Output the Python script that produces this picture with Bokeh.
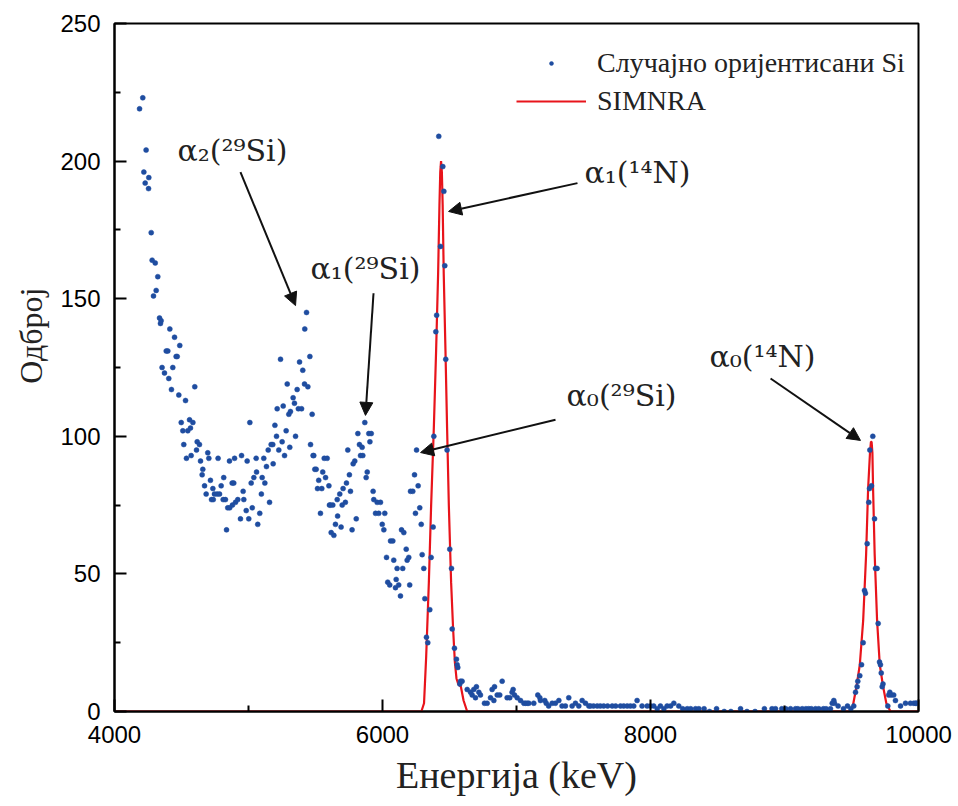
from bokeh.plotting import figure
from bokeh.models import (FixedTicker, Arrow, NormalHead, Legend, LegendItem,
                          Title, ColumnDataSource, Range1d)
from bokeh.core.properties import value
from bokeh.embed import file_html
from bokeh.resources import INLINE

# ---- measured spectrum: "Случајно оријентисани Si" (energy keV, counts)
energy = [
    4187, 4211, 4219, 4229, 4236, 4254, 4256, 4274, 4281, 4291, 4304, 4311, 4323,
    4336, 4343, 4348, 4355, 4373, 4386, 4398, 4405, 4413, 4425, 4435, 4448, 4460,
    4468, 4480, 4487, 4498, 4510, 4517, 4530, 4537, 4547, 4560, 4567, 4572, 4585,
    4599, 4612, 4617, 4634, 4642, 4654, 4659, 4672, 4684, 4696, 4704, 4716, 4724,
    4734, 4737, 4746, 4766, 4773, 4784, 4796, 4811, 4815, 4828, 4836, 4845, 4858,
    4860, 4878, 4880, 4890, 4896, 4903, 4920, 4940, 4948, 4960, 4965, 4983, 4990,
    5002, 5010, 5020, 5028, 5040, 5057, 5060, 5069, 5084, 5096, 5102, 5114, 5122,
    5134, 5147, 5157, 5169, 5181, 5184, 5197, 5209, 5214, 5226, 5239, 5251, 5259,
    5269, 5281, 5289, 5301, 5308, 5313, 5333, 5343, 5351, 5363, 5372, 5381, 5396,
    5405, 5418, 5420, 5433, 5443, 5458, 5463, 5475, 5482, 5487, 5495, 5505, 5515,
    5524, 5537, 5547, 5554, 5565, 5575, 5587, 5600, 5604, 5612, 5617, 5629, 5637,
    5649, 5662, 5665, 5681, 5691, 5699, 5706, 5723, 5731, 5741, 5753, 5761, 5773,
    5781, 5793, 5804, 5816, 5828, 5836, 5848, 5853, 5868, 5878, 5886, 5898, 5906,
    5916, 5930, 5935, 5948, 5960, 5972, 5985, 5998, 6010, 6017, 6030, 6039, 6054,
    6060, 6077, 6084, 6097, 6102, 6109, 6121, 6134, 6142, 6151, 6159, 6177, 6184,
    6196, 6203, 6209, 6226, 6239, 6246, 6254, 6266, 6278, 6289, 6296, 6308, 6316,
    6328, 6338, 6353, 6363, 6378, 6383, 6398, 6404, 6420, 6433, 6450, 6458, 6465,
    6472, 6482, 6502, 6515, 6520, 6537, 6552, 6557, 6562, 6577, 6582, 6594, 6632,
    6657, 6669, 6681, 6694, 6701, 6719, 6731, 6761, 6781, 6806, 6818, 6831, 6836,
    6856, 6875, 6893, 6930, 6950, 6967, 6975, 6985, 7005, 7030, 7055, 7067, 7080,
    7092, 7129, 7159, 7174, 7179, 7211, 7222, 7240, 7266, 7290, 7316, 7340, 7365,
    7390, 7415, 7440, 7465, 7490, 7515, 7540, 7552, 7575, 7602, 7625, 7651, 7680,
    7714, 7740, 7776, 7800, 7826, 7850, 7875, 7900, 7937, 7975, 8000, 8024, 8050,
    8074, 8100, 8124, 8150, 8174, 8211, 8240, 8274, 8300, 8336, 8361, 8400, 8440,
    8493, 8550, 8600, 8672, 8720, 8780, 8850, 8907, 8933, 8980, 9010, 9045, 9082,
    9100, 9132, 9160, 9181, 9200, 9231, 9256, 9290, 9310, 9343, 9356, 9368, 9373,
    9400, 9440, 9470, 9495, 9517, 9530, 9542, 9547, 9562, 9575, 9587, 9597, 9604,
    9617, 9629, 9634, 9637, 9649, 9659, 9672, 9679, 9691, 9699, 9709, 9716, 9722,
    9729, 9735, 9771, 9778, 9786, 9796, 9815, 9828, 9866, 9903, 9940, 9965, 9978,
    9985,
]
counts = [
    219, 223, 196, 192, 204, 190, 194, 174, 164, 151, 163, 153, 158,
    143, 141, 142, 125, 123, 131, 131, 121, 139, 117, 125, 136, 129,
    129, 115, 133, 105, 102, 97, 113, 92, 102, 106, 103, 93, 105,
    118, 95, 98, 97, 91, 86, 88, 82, 79, 94, 92, 84, 77,
    81, 77, 79, 79, 92, 79, 82, 77, 85, 77, 66, 74, 91,
    74, 83, 75, 83, 92, 76, 77, 70, 93, 80, 77, 73, 91,
    70, 105, 83, 74, 85, 92, 87, 68, 72, 79, 85, 92, 83,
    89, 95, 76, 97, 97, 90, 104, 100, 110, 95, 128, 98, 111,
    93, 102, 119, 108, 96, 109, 114, 112, 100, 117, 110, 127, 110,
    124, 119, 139, 145, 118, 129, 97, 108, 93, 93, 88, 88, 81,
    84, 72, 81, 87, 92, 85, 92, 82, 75, 75, 65, 75, 64,
    68, 77, 71, 79, 67, 75, 81, 76, 83, 95, 86, 80, 66,
    90, 91, 70, 101, 97, 93, 96, 93, 105, 85, 87, 101, 98,
    101, 80, 77, 72, 76, 72, 76, 68, 66, 72, 56, 47, 46,
    62, 62, 55, 45, 48, 52, 46, 42, 66, 52, 65, 59, 55,
    56, 46, 80, 80, 86, 72, 95, 82, 74, 68, 57, 52, 41,
    27, 25, 37, 56, 67, 100, 138, 144, 209, 169, 198, 189, 162,
    128, 95, 59, 52, 30, 23, 19, 17, 16, 10, 11, 11, 8,
    7, 6, 8, 5, 9, 7, 6, 3, 3, 5, 8, 4, 9,
    6, 6, 11, 5, 5, 7, 8, 6, 5, 4, 3, 3, 3,
    3, 3, 6, 5, 4, 4, 3, 2, 3, 3, 4, 2, 2,
    5, 2, 3, 2, 4, 3, 2, 2, 2, 2, 2, 2, 2,
    2, 2, 2, 2, 2, 2, 2, 4, 2, 2, 2, 2, 1,
    2, 1, 2, 2, 3, 2, 1, 1, 1, 1, 1, 1, 0,
    1, 0, 0, 1, 0, 0, 1, 1, 1, 1, 1, 1, 1,
    1, 1, 1, 1, 1, 1, 1, 1, 1, 1, 3, 4, 3,
    2, 1, 2, 1, 2, 7, 9, 11, 13, 17, 25, 44, 43,
    61, 76, 81, 95, 82, 100, 70, 52, 52, 32, 18, 17, 14,
    9, 10, 2, 6, 7, 6, 6, 4, 2, 3, 3, 3, 3,
    3,
]

# ---- SIMNRA simulation (energy keV, counts)
simnra_energy = [4000, 6290, 6310, 6326, 6346, 6363, 6383, 6400, 6415, 6425, 6431,
                 6437, 6443, 6449, 6457, 6470, 6482, 6495, 6512, 6527, 6540, 6552,
                 6565, 6585, 6605, 6632, 9495, 9510, 9537, 9562, 9587, 9609, 9624,
                 9638, 9645, 9650, 9656, 9661, 9673, 9691, 9711, 9736, 9760, 9791,
                 10000]
simnra_counts = [0, 0, 3, 20, 47, 75, 103, 131, 159, 184, 196,
                 200, 196, 184, 159, 131, 103, 75, 47, 30, 18, 12,
                 10, 9, 4, 0, 0, 2, 9, 17, 33, 57, 81,
                 94, 98, 98, 94, 81, 57, 33, 17, 9, 3, 0,
                 0]

x_ticks = [4000, 6000, 8000, 10000]
x_minor = [5000, 7000, 9000]
y_ticks = [0, 50, 100, 150, 200, 250]
y_minor = [25, 75, 125, 175, 225]

series_names = ["Случајно оријентисани Si", "SIMNRA"]

# ---- peak annotations (label text, label position, arrow start/end)
peak_labels = ["α₂(²⁹Si)", "α₁(²⁹Si)", "α₁(¹⁴N)", "α₀(²⁹Si)", "α₀(¹⁴N)"]
label_x = [4880, 5873, 7903, 7784, 8836]
label_y = [204, 161, 196, 115, 129]
arrow_x0 = [4940, 5933, 7455, 7291, 8896]
arrow_y0 = [196, 152, 192, 106, 121]
arrow_x1 = [5351, 5873, 6493, 6284, 9567]
arrow_y1 = [147.5, 107.6, 181.7, 94.1, 98.5]

BLUE = "#1F4DA0"
RED = "#E8141B"

p = figure(width=958, height=806, x_range=Range1d(4000, 10000), y_range=Range1d(0, 250),
           output_backend="svg", toolbar_location=None,
           min_border_left=114, min_border_right=40, min_border_top=23, min_border_bottom=95)
p.background_fill_color = "white"
p.border_fill_color = "white"
p.outline_line_color = "black"
p.outline_line_width = 2
p.xgrid.visible = False
p.ygrid.visible = False

line_r = p.line(simnra_energy, simnra_counts, line_color=RED, line_width=2.2)
scat_r = p.scatter(energy, counts, size=5, fill_color=BLUE, line_color=BLUE, line_width=0.5)

for ax, ticks, minor in ((p.xaxis[0], x_ticks, x_minor), (p.yaxis[0], y_ticks, y_minor)):
    ax.ticker = FixedTicker(ticks=ticks, minor_ticks=minor)
    ax.axis_line_width = 2
    ax.axis_line_color = "black"
    ax.major_tick_in = 12
    ax.major_tick_out = 0
    ax.minor_tick_in = 6
    ax.minor_tick_out = 0
    ax.major_tick_line_width = 2
    ax.minor_tick_line_width = 2
    ax.major_tick_line_color = "black"
    ax.minor_tick_line_color = "black"
    ax.major_label_text_font = "Liberation Sans"
    ax.major_label_text_font_size = "24px"
    ax.major_label_text_color = "black"
    ax.major_label_standoff = 14

p.xaxis[0].axis_label = "Енергија (keV)"
p.xaxis[0].axis_label_text_font = "Liberation Serif"
p.xaxis[0].axis_label_text_font_size = "38px"
p.xaxis[0].axis_label_text_font_style = "normal"
p.xaxis[0].axis_label_text_color = "#222222"
p.xaxis[0].axis_label_standoff = 8

ytitle = Title(text="Одброј", align="right", offset=264, text_font="Liberation Serif",
               text_font_size="32px", text_font_style="normal", text_color="#222222",
               standoff=14, vertical_align="top")
p.add_layout(ytitle, "left")

src = ColumnDataSource(dict(x=label_x, y=label_y, t=peak_labels))
p.text(x="x", y="y", text="t", source=src, text_font=value("DejaVu Serif"),
       text_font_size="30px", text_align="center", text_baseline="middle",
       text_color="#222222")

for xs, ys, xe, ye in zip(arrow_x0, arrow_y0, arrow_x1, arrow_y1):
    p.add_layout(Arrow(end=NormalHead(size=13, fill_color="#111111", line_color="#111111"),
                       x_start=xs, y_start=ys, x_end=xe, y_end=ye,
                       line_color="#111111", line_width=2))

legend = Legend(items=[LegendItem(label=series_names[0], renderers=[scat_r]),
                       LegendItem(label=series_names[1], renderers=[line_r])],
                location=(402, 594), orientation="vertical",
                glyph_width=70, glyph_height=10, label_height=32, label_standoff=11,
                spacing=6, padding=0, margin=0,
                label_text_font="Liberation Serif", label_text_font_size="28px",
                label_text_color="#222222",
                border_line_alpha=0, background_fill_alpha=0)
p.add_layout(legend, "center")

open("out.html", "w").write(file_html(p, INLINE))
